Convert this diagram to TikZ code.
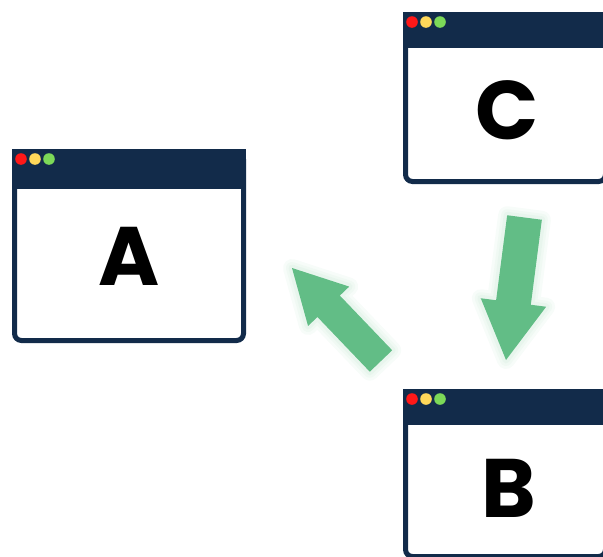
\documentclass[tikz,border=0pt]{standalone}
\usepackage{fontspec}
\newfontfamily\winfont{Poppins}
\usetikzlibrary{calc}
\definecolor{winnavy}{RGB}{18,43,74}
\definecolor{arrowgreen}{RGB}{98,189,134}
\definecolor{dotred}{RGB}{255,24,24}
\definecolor{dotyellow}{RGB}{255,216,90}
\definecolor{dotgreen}{RGB}{124,217,88}
\tikzset{
  winframe/.style={draw=winnavy,fill=white,line width=5pt,rounded corners=7pt},
  winlabel/.style={font=\winfont\bfseries\fontsize{83}{83}\selectfont,text=black,inner sep=0pt},
  glow/.style={draw=arrowgreen,line join=round,draw opacity=0.05},
}
% #1 left, #2 top, #3 right, #4 bottom, #5 bar height
\newcommand{\browserwin}[5]{%
  \draw[winframe] (#1+2.5,#2+10) -- (#1+2.5,#4-2.5) -- (#3-2.5,#4-2.5) -- (#3-2.5,#2+10);
  \fill[winnavy] (#1,#2) rectangle (#3,#2+#5);
  \fill[dotred]    (#1+9,#2+10) circle[radius=5.8];
  \fill[dotyellow] (#1+23,#2+10) circle[radius=5.8];
  \fill[dotgreen]  (#1+37,#2+10) circle[radius=5.8];
}
% #1 tail, #2 tip, #3 shaft half width, #4 head half width, #5 head length
\newcommand{\bigarrow}[5]{%
  \coordinate (neck) at ($(#2)!#5pt!(#1)$);
  \foreach \w in {18,12,7} {
    \draw[glow,line width=\w pt]
      ($(#1)!#3pt!90:(#2)$) -- ($(neck)!#3pt!90:(#2)$) -- ($(neck)!#4pt!90:(#2)$) --
      (#2) -- ($(neck)!#4pt!-90:(#2)$) -- ($(neck)!#3pt!-90:(#2)$) -- ($(#1)!#3pt!-90:(#2)$) -- cycle;
  }
  \fill[arrowgreen]
    ($(#1)!#3pt!90:(#2)$) -- ($(neck)!#3pt!90:(#2)$) -- ($(neck)!#4pt!90:(#2)$) --
    (#2) -- ($(neck)!#4pt!-90:(#2)$) -- ($(neck)!#3pt!-90:(#2)$) -- ($(#1)!#3pt!-90:(#2)$) -- cycle;
}
\begin{document}
\begin{tikzpicture}[x=1pt,y=-1pt]
    \clip (0,0) rectangle (603,557);
    % windows
    \browserwin{12}{149}{246}{343}{40}
    \browserwin{403}{12}{608}{184}{36}
    \browserwin{403}{389}{608}{559}{36}
    \node[winlabel] (A) at (129,256) {A};
    \node[winlabel] (C) at (507,110) {C};
    \node[winlabel] (B) at (509,488) {B};
    % arrows
    \coordinate (ab-tail) at (381,361);
    \coordinate (ab-tip) at (292,268);
    \coordinate (cb-tail) at (524.5,217.5);
    \coordinate (cb-tip) at (506,360);
    \bigarrow{ab-tail}{ab-tip}{15.5}{28.5}{53}
    \bigarrow{cb-tail}{cb-tip}{17.5}{33}{58}
\end{tikzpicture}
\end{document}
